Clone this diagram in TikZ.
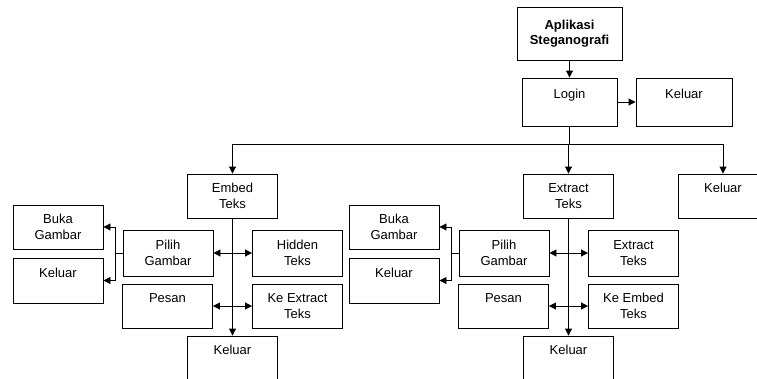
\documentclass[tikz,border=0pt]{standalone}
\usepackage{fontspec}
\setmainfont{Liberation Sans}
\usetikzlibrary{arrows.meta,calc}
\begin{document}
\begin{tikzpicture}[x=1pt,y=-1pt,
  box/.style={draw,line width=0.9pt,rectangle,inner sep=0pt,minimum width=90pt,minimum height=44pt,align=center,font=\fontsize{13}{15.5}\selectfont},
  con/.style={line width=0.9pt},
  arr/.style={con,-{Triangle[length=7pt,width=7pt]}},
  darr/.style={con,{Triangle[length=7pt,width=7pt]}-{Triangle[length=7pt,width=7pt]}}]
\useasboundingbox (0,0) rectangle (757,378);
\clip (0,0) rectangle (757,378);
\node[box,minimum width=105pt,minimum height=53pt,font=\fontsize{13}{15.5}\selectfont\bfseries] (app) at (569.5,33.5) {Aplikasi\\Steganografi};
\node[box,minimum width=95pt,minimum height=48pt] (login) at (569.5,102) {Login\\\mbox{}};
\node[box,minimum width=96pt,minimum height=48pt] (k0) at (684,102) {Keluar\\\mbox{}};
\node[box] (embed) at (232.5,196) {Embed\\Teks};
\node[box] (extract) at (568.5,196) {Extract\\Teks};
\node[box] (k1) at (723,196) {Keluar\\\mbox{}};
% group A
\node[box,minimum height=46pt] (pilihA) at (168,253) {Pilih\\Gambar};
\node[box,minimum height=46pt] (hiddenA) at (297.5,253) {Hidden\\Teks};
\node[box] (pesanA) at (167.5,306) {Pesan\\\mbox{}};
\node[box] (keA) at (297.5,306) {Ke Extract\\Teks};
\node[box] (kbA) at (232.5,358) {Keluar\\\mbox{}};
\node[box] (bukaA) at (58,227) {Buka\\Gambar};
\node[box,minimum height=45pt] (kelA) at (58,280.5) {Keluar\\\mbox{}};
% group B
\node[box,minimum height=46pt] (pilihB) at (504,253) {Pilih\\Gambar};
\node[box,minimum height=46pt] (hiddenB) at (633.5,253) {Extract\\Teks};
\node[box] (pesanB) at (503.5,306) {Pesan\\\mbox{}};
\node[box] (keB) at (633.5,306) {Ke Embed\\Teks};
\node[box] (kbB) at (568.5,358) {Keluar\\\mbox{}};
\node[box] (bukaB) at (394,227) {Buka\\Gambar};
\node[box,minimum height=45pt] (kelB) at (394,280.5) {Keluar\\\mbox{}};
% connectors
\draw[arr] (app) -- (login);
\draw[arr] (login.east) -- (k0.west);
\coordinate (split) at (569.5,144);
\draw[arr] (login.south) -- (split) -- (split -| extract.north) -- (extract.north);
\draw[arr] (split) -| (embed.north);
\draw[arr] (split) -| (k1.north);
\draw[arr] (embed.south) -- (kbA.north);
\draw[arr] (extract.south) -- (kbB.north);
\draw[darr] (pilihA.east) -- (hiddenA.west);
\draw[darr] (pesanA.east) -- (keA.west);
\draw[darr] (pilihB.east) -- (hiddenB.west);
\draw[darr] (pesanB.east) -- (keB.west);
\coordinate (brA) at ($(pilihA.west)+(-7,0)$);
\draw[con] (pilihA.west) -- (brA);
\draw[arr] (brA) |- (bukaA.east);
\draw[arr] (brA) |- (kelA.east);
\coordinate (brB) at ($(pilihB.west)+(-7,0)$);
\draw[con] (pilihB.west) -- (brB);
\draw[arr] (brB) |- (bukaB.east);
\draw[arr] (brB) |- (kelB.east);
\end{tikzpicture}
\end{document}
